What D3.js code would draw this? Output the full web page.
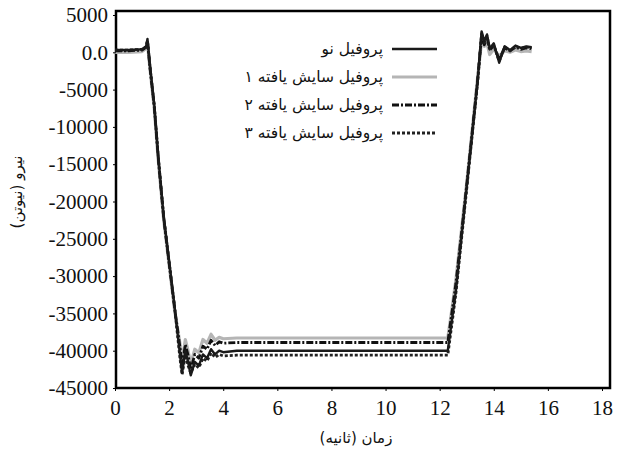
<!DOCTYPE html>
<html><head><meta charset="utf-8">
<script src="https://cdn.jsdelivr.net/npm/d3@7"></script>
<style>body{margin:0;background:#fff;} svg{display:block;}</style>
</head><body>
<svg id="c" width="618" height="450"></svg>
<script>
const timeS = [0,0.5,1.0,1.15,1.2,1.3,1.45,1.6,1.8,2.0,2.2,2.4,2.48,2.6,2.7,2.8,2.95,3.1,3.25,3.4,3.55,3.7,3.85,4.0,4.5,5,6,8,10,12,12.3,12.45,12.6,12.8,13.0,13.2,13.4,13.55,13.65,13.75,13.85,14.0,14.2,14.4,14.6,14.8,15.0,15.2,15.4];
const newProfile = [300,300,400,800,1800,-2000,-7000,-14000,-22000,-28000,-34000,-40500,-43000,-40000,-41500,-43300,-41500,-42000,-40500,-41000,-39800,-40500,-40000,-40200,-40000,-40000,-40000,-40000,-40000,-40000,-40000,-36000,-32000,-25000,-18000,-11000,-4000,2800,1500,2400,500,1200,-1400,800,300,900,600,800,700];
const worn1 = [0,0,100,500,1200,-2500,-7500,-14500,-22500,-28500,-34500,-39000,-41500,-38500,-40000,-41800,-39800,-40300,-38500,-39000,-37800,-38600,-38200,-38400,-38300,-38300,-38300,-38300,-38300,-38300,-38300,-34500,-30500,-24000,-17500,-10500,-3500,1500,800,1200,-300,400,-500,200,0,300,100,200,100];
const worn2 = [200,200,300,700,1500,-2300,-7200,-14200,-22200,-28200,-34200,-39500,-42000,-39200,-40600,-42500,-40500,-41000,-39400,-39800,-38600,-39300,-38800,-39000,-38900,-38900,-38900,-38900,-38900,-38900,-38900,-35000,-31000,-24500,-17800,-10800,-3800,2200,1000,2000,300,900,-1000,600,200,700,400,600,500];
const worn3 = [300,300,400,700,1600,-2200,-7100,-14100,-22100,-28100,-34100,-41000,-43200,-40600,-42000,-43000,-41800,-42300,-41000,-41400,-40300,-40900,-40500,-40700,-40600,-40600,-40600,-40600,-40600,-40600,-40600,-36500,-32300,-25300,-18300,-11200,-4200,2500,1300,2200,400,1000,-1200,700,200,800,500,700,600];
const seriesNames = ["پروفیل نو","پروفیل سایش یافته ۱","پروفیل سایش یافته ۲","پروفیل سایش یافته ۳"];
const xTicks = [0,2,4,6,8,10,12,14,16,18];
const yTicks = [5000,0,-5000,-10000,-15000,-20000,-25000,-30000,-35000,-40000,-45000];
const xTitle = "زمان (ثانیه)";
const yTitle = "نیرو (نیوتن)";

const svg = d3.select("#c");
const x = d3.scaleLinear().domain([0,18]).range([115,602]);
const y = d3.scaleLinear().domain([-45000,5000]).range([388,15]);

const styles = [
  {stroke:"#1a1a1a", width:2.4, dash:null},
  {stroke:"#b5b5b5", width:3.2, dash:null},
  {stroke:"#111", width:2.8, dash:"7,2,2,2"},
  {stroke:"#222", width:2.8, dash:"3,2"}
];
const allSeries = [newProfile, worn1, worn2, worn3];

// frame
svg.append("rect").attr("x",116).attr("y",11).attr("width",494).attr("height",377)
  .attr("fill","none").attr("stroke","#000").attr("stroke-width",2.5);

const line = d3.line().x((d,i)=>x(timeS[i])).y(d=>y(d)).curve(d3.curveLinear);
const order = [1,2,3,0];
order.forEach(k=>{
  svg.append("path").datum(allSeries[k]).attr("d",line).attr("fill","none")
    .attr("stroke",styles[k].stroke).attr("stroke-width",styles[k].width)
    .attr("stroke-dasharray",styles[k].dash).attr("stroke-linejoin","round");
});

// axes
const xAxis = d3.axisBottom(x).tickValues(xTicks).tickSize(3).tickFormat(d3.format("d"));
const gx = svg.append("g").attr("transform","translate(0,388)").call(xAxis);
gx.select(".domain").remove();
gx.selectAll("text").attr("font-family","Liberation Serif").attr("font-size",21).attr("fill","#111").attr("dy","1em");
gx.selectAll("line").attr("stroke","#000");

const yAxis = d3.axisLeft(y).tickValues(yTicks).tickSize(3).tickFormat(d=>d===0?"0.0":String(d));
const gy = svg.append("g").attr("transform","translate(116,0)").call(yAxis);
gy.select(".domain").remove();
gy.selectAll("text").attr("font-family","Liberation Serif").attr("font-size",21).attr("fill","#111").attr("x",-8);
gy.selectAll("line").attr("stroke","#000");

// titles
svg.append("text").attr("x",356).attr("y",443).attr("text-anchor","middle")
  .attr("font-family","DejaVu Sans").attr("font-size",15).attr("fill","#111").text(xTitle);
svg.append("text").attr("transform","translate(22,192) rotate(-90)").attr("text-anchor","middle")
  .attr("font-family","DejaVu Sans").attr("font-size",15).attr("fill","#111").text(yTitle);

// legend
const lg = svg.append("g");
seriesNames.forEach((n,i)=>{
  const yy = 49 + i*28;
  lg.append("line").attr("x1",392).attr("x2",437).attr("y1",yy).attr("y2",yy)
    .attr("stroke",styles[i].stroke).attr("stroke-width",styles[i].width)
    .attr("stroke-dasharray",styles[i].dash);
  lg.append("text").attr("x",383).attr("y",yy).attr("dy","0.3em").attr("text-anchor","start")
    .attr("direction","rtl").attr("font-family","DejaVu Sans").attr("font-size",15.5).attr("fill","#111").text(n);
});
</script>
</body></html>
